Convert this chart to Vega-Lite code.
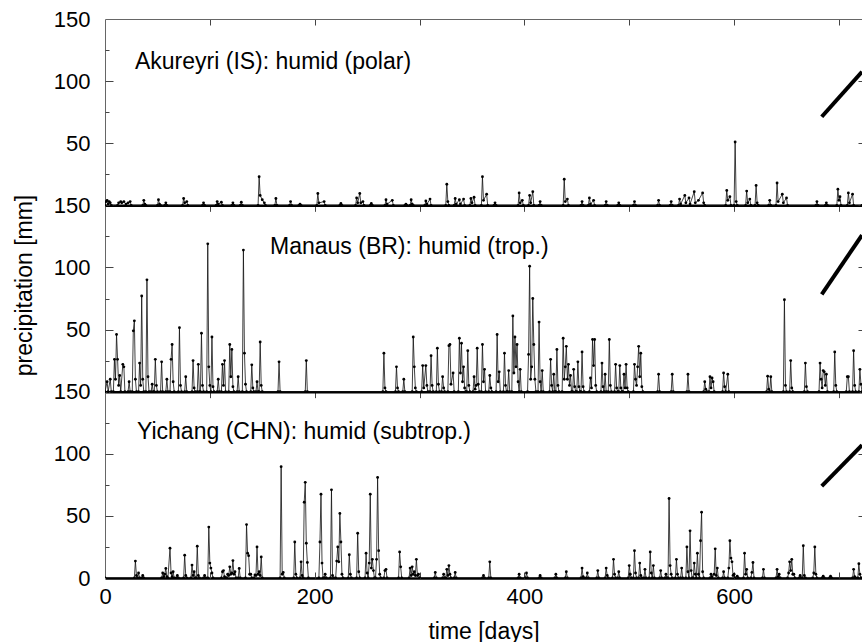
{
"$schema": "https://vega.github.io/schema/vega-lite/v6.json",
"width": 757, "height": 559,
"autosize": {"type": "none"},
"padding": {"left": 105, "top": 19, "right": 0, "bottom": 64},
"background": "white",
"config": {
  "view": {"stroke": null},
  "font": "Liberation Sans",
  "axis": {"grid": false, "labelFont": "Liberation Sans", "labelFontSize": 22, "labelColor": "#000", "titleFont": "Liberation Sans", "titleFontSize": 23, "titleFontWeight": "normal", "titleColor": "#000", "domainColor": "#666", "tickColor": "#444", "tickWidth": 1, "labelFlush": false, "labelOverlap": false, "labelBound": false}
},
"datasets": {
"ak": [{"t":0,"p":0},{"t":1,"p":3},{"t":2,"p":4},{"t":3,"p":1},{"t":4,"p":3},{"t":5,"p":2},{"t":6,"p":0},{"t":12,"p":0},{"t":13,"p":2},{"t":15,"p":3},{"t":16,"p":2},{"t":18,"p":3},{"t":20,"p":1},{"t":22,"p":2},{"t":24,"p":3},{"t":25,"p":0},{"t":36,"p":0},{"t":37,"p":4},{"t":38,"p":1},{"t":39,"p":0},{"t":50,"p":0},{"t":51,"p":4.5},{"t":52,"p":1},{"t":53,"p":0},{"t":57,"p":0},{"t":58,"p":2},{"t":59,"p":0},{"t":74,"p":0},{"t":75,"p":5.5},{"t":76,"p":2},{"t":78,"p":3},{"t":79,"p":0},{"t":93,"p":0},{"t":94,"p":2},{"t":95,"p":0},{"t":106,"p":0},{"t":107,"p":3},{"t":108,"p":1},{"t":111,"p":2.5},{"t":112,"p":0},{"t":121,"p":0},{"t":122,"p":2},{"t":123,"p":0},{"t":129,"p":0},{"t":130,"p":2.5},{"t":131,"p":0},{"t":146,"p":0},{"t":147,"p":23},{"t":148,"p":8},{"t":150,"p":4.5},{"t":152,"p":2},{"t":153,"p":0},{"t":162,"p":0},{"t":163,"p":5.5},{"t":164,"p":0},{"t":176,"p":0},{"t":177,"p":3},{"t":178,"p":0},{"t":185,"p":0},{"t":186,"p":1},{"t":187,"p":0},{"t":202,"p":0},{"t":203,"p":9.5},{"t":204,"p":2},{"t":209,"p":3},{"t":210,"p":0},{"t":224,"p":0},{"t":225,"p":1.5},{"t":226,"p":0},{"t":239,"p":0},{"t":240,"p":6},{"t":241,"p":2},{"t":243,"p":9.5},{"t":244,"p":2},{"t":246,"p":3},{"t":247,"p":0},{"t":253,"p":0},{"t":254,"p":1.5},{"t":255,"p":0},{"t":267,"p":0},{"t":268,"p":4.5},{"t":269,"p":1},{"t":274,"p":4},{"t":275,"p":0},{"t":286,"p":0},{"t":287,"p":1},{"t":288,"p":0},{"t":291,"p":0},{"t":292,"p":4.5},{"t":293,"p":1},{"t":294,"p":0},{"t":305,"p":0},{"t":306,"p":3.5},{"t":307,"p":1},{"t":310,"p":5},{"t":311,"p":0},{"t":325,"p":0},{"t":326,"p":17},{"t":327,"p":3},{"t":328,"p":0},{"t":333,"p":0},{"t":334,"p":5.5},{"t":335,"p":1},{"t":338,"p":4.5},{"t":339,"p":1},{"t":342,"p":5},{"t":343,"p":0},{"t":348,"p":0},{"t":349,"p":5.5},{"t":350,"p":2},{"t":352,"p":6.5},{"t":353,"p":0},{"t":359,"p":0},{"t":360,"p":23},{"t":361,"p":4},{"t":364,"p":9},{"t":365,"p":0},{"t":371,"p":0},{"t":372,"p":2},{"t":373,"p":0},{"t":394,"p":0},{"t":395,"p":10},{"t":396,"p":2},{"t":398,"p":4},{"t":399,"p":0},{"t":404,"p":0},{"t":405,"p":8},{"t":406,"p":2},{"t":408,"p":11},{"t":409,"p":0},{"t":414,"p":0},{"t":415,"p":3},{"t":416,"p":0},{"t":437,"p":0},{"t":438,"p":21},{"t":439,"p":3},{"t":441,"p":5},{"t":442,"p":0},{"t":454,"p":0},{"t":455,"p":3},{"t":456,"p":0},{"t":461,"p":0},{"t":462,"p":6},{"t":463,"p":1},{"t":466,"p":4},{"t":467,"p":0},{"t":477,"p":0},{"t":478,"p":3},{"t":479,"p":0},{"t":489,"p":0},{"t":490,"p":2},{"t":491,"p":0},{"t":504,"p":0},{"t":505,"p":3},{"t":506,"p":0},{"t":527,"p":0},{"t":528,"p":4},{"t":529,"p":0},{"t":539,"p":0},{"t":540,"p":3},{"t":541,"p":0},{"t":547,"p":0},{"t":548,"p":5},{"t":549,"p":1},{"t":553,"p":8},{"t":554,"p":2},{"t":557,"p":6},{"t":558,"p":1},{"t":562,"p":11},{"t":563,"p":2},{"t":566,"p":4},{"t":570,"p":10},{"t":571,"p":2},{"t":572,"p":0},{"t":592,"p":0},{"t":593,"p":12},{"t":594,"p":4},{"t":596,"p":7},{"t":597,"p":0},{"t":600,"p":0},{"t":601,"p":51},{"t":602,"p":3},{"t":603,"p":0},{"t":611,"p":0},{"t":612,"p":11.5},{"t":613,"p":2},{"t":615,"p":5},{"t":616,"p":0},{"t":620,"p":0},{"t":621,"p":16},{"t":622,"p":2},{"t":623,"p":0},{"t":633,"p":0},{"t":634,"p":4},{"t":635,"p":0},{"t":640,"p":0},{"t":641,"p":18},{"t":642,"p":3},{"t":646,"p":9},{"t":647,"p":2},{"t":650,"p":6},{"t":651,"p":0},{"t":678,"p":0},{"t":679,"p":3},{"t":680,"p":0},{"t":687,"p":0},{"t":688,"p":2},{"t":689,"p":0},{"t":698,"p":0},{"t":699,"p":13},{"t":700,"p":4},{"t":701,"p":7},{"t":702,"p":0},{"t":708,"p":0},{"t":709,"p":10},{"t":710,"p":2},{"t":713,"p":9},{"t":714,"p":0},{"t":722,"p":0}],
"ma": [{"t":0,"p":0},{"t":2,"p":8},{"t":3,"p":0},{"t":5,"p":10},{"t":6,"p":0},{"t":8,"p":0},{"t":9,"p":26},{"t":10,"p":10},{"t":11,"p":46},{"t":12,"p":26},{"t":13,"p":5},{"t":14,"p":13},{"t":15,"p":0},{"t":17,"p":22},{"t":18,"p":20},{"t":19,"p":0},{"t":22,"p":0},{"t":23,"p":8},{"t":24,"p":0},{"t":26,"p":0},{"t":27,"p":49},{"t":28,"p":57},{"t":29,"p":10},{"t":30,"p":0},{"t":32,"p":0},{"t":33,"p":23},{"t":34,"p":5},{"t":35,"p":77},{"t":36,"p":10},{"t":37,"p":0},{"t":39,"p":0},{"t":40,"p":90},{"t":41,"p":12},{"t":42,"p":0},{"t":44,"p":0},{"t":45,"p":6},{"t":46,"p":0},{"t":47,"p":0},{"t":48,"p":26},{"t":49,"p":5},{"t":50,"p":0},{"t":53,"p":0},{"t":54,"p":24},{"t":55,"p":0},{"t":58,"p":0},{"t":59,"p":10},{"t":60,"p":0},{"t":62,"p":0},{"t":63,"p":26},{"t":64,"p":38},{"t":65,"p":8},{"t":66,"p":0},{"t":70,"p":0},{"t":71,"p":51.5},{"t":72,"p":5},{"t":73,"p":0},{"t":76,"p":0},{"t":77,"p":12},{"t":78,"p":0},{"t":83,"p":0},{"t":84,"p":25},{"t":85,"p":3},{"t":86,"p":0},{"t":88,"p":0},{"t":89,"p":22},{"t":90,"p":0},{"t":91,"p":0},{"t":92,"p":47},{"t":93,"p":5},{"t":94,"p":0},{"t":97,"p":0},{"t":98,"p":119},{"t":99,"p":20},{"t":100,"p":5},{"t":101,"p":0},{"t":102,"p":44},{"t":103,"p":4},{"t":104,"p":0},{"t":107,"p":0},{"t":108,"p":10},{"t":109,"p":0},{"t":111,"p":0},{"t":112,"p":22},{"t":113,"p":5},{"t":114,"p":25},{"t":115,"p":0},{"t":118,"p":0},{"t":119,"p":38},{"t":120,"p":12},{"t":121,"p":34},{"t":122,"p":4},{"t":123,"p":0},{"t":126,"p":0},{"t":127,"p":12},{"t":128,"p":0},{"t":131,"p":0},{"t":132,"p":114},{"t":133,"p":31},{"t":134,"p":6},{"t":135,"p":0},{"t":139,"p":0},{"t":140,"p":21.6},{"t":141,"p":3},{"t":142,"p":0},{"t":144,"p":0},{"t":145,"p":8},{"t":146,"p":0},{"t":147,"p":0},{"t":148,"p":40},{"t":149,"p":5},{"t":150,"p":0},{"t":165,"p":0},{"t":166,"p":24},{"t":167,"p":0},{"t":191,"p":0},{"t":192,"p":25},{"t":193,"p":0},{"t":265,"p":0},{"t":266,"p":31},{"t":267,"p":3},{"t":268,"p":0},{"t":277,"p":0},{"t":278,"p":20},{"t":279,"p":3},{"t":280,"p":0},{"t":284,"p":0},{"t":285,"p":10},{"t":286,"p":0},{"t":293,"p":0},{"t":294,"p":44},{"t":295,"p":20},{"t":296,"p":3},{"t":297,"p":0},{"t":302,"p":0},{"t":303,"p":21},{"t":304,"p":3},{"t":306,"p":21},{"t":307,"p":5},{"t":308,"p":0},{"t":310,"p":0},{"t":311,"p":29},{"t":312,"p":5},{"t":313,"p":0},{"t":316,"p":0},{"t":317,"p":35},{"t":318,"p":6},{"t":319,"p":0},{"t":321,"p":0},{"t":322,"p":12},{"t":323,"p":3},{"t":324,"p":0},{"t":327,"p":0},{"t":328,"p":37},{"t":329,"p":38},{"t":330,"p":6},{"t":332,"p":15},{"t":333,"p":0},{"t":337,"p":0},{"t":338,"p":43},{"t":339,"p":15},{"t":340,"p":39},{"t":341,"p":8},{"t":342,"p":20},{"t":343,"p":3},{"t":344,"p":0},{"t":345,"p":0},{"t":346,"p":33},{"t":347,"p":5},{"t":348,"p":0},{"t":351,"p":0},{"t":352,"p":12},{"t":353,"p":2},{"t":354,"p":5},{"t":355,"p":35},{"t":356,"p":6},{"t":357,"p":0},{"t":359,"p":0},{"t":360,"p":38},{"t":361,"p":8},{"t":362,"p":18},{"t":363,"p":0},{"t":366,"p":0},{"t":367,"p":13},{"t":368,"p":3},{"t":369,"p":0},{"t":373,"p":0},{"t":374,"p":46},{"t":375,"p":8},{"t":376,"p":16},{"t":377,"p":0},{"t":380,"p":0},{"t":381,"p":31},{"t":382,"p":5},{"t":383,"p":0},{"t":384,"p":0},{"t":385,"p":17},{"t":386,"p":0},{"t":388,"p":0},{"t":389,"p":61},{"t":390,"p":15},{"t":391,"p":44},{"t":392,"p":20},{"t":393,"p":38},{"t":394,"p":8},{"t":395,"p":0},{"t":396,"p":18},{"t":397,"p":0},{"t":403,"p":0},{"t":404,"p":30},{"t":405,"p":101},{"t":406,"p":10},{"t":407,"p":20},{"t":408,"p":75},{"t":409,"p":38},{"t":410,"p":10},{"t":411,"p":0},{"t":413,"p":0},{"t":414,"p":56},{"t":415,"p":8},{"t":416,"p":0},{"t":417,"p":17},{"t":418,"p":0},{"t":424,"p":0},{"t":425,"p":26},{"t":426,"p":5},{"t":427,"p":0},{"t":428,"p":14},{"t":429,"p":0},{"t":430,"p":0},{"t":431,"p":34},{"t":432,"p":5},{"t":433,"p":0},{"t":436,"p":0},{"t":437,"p":43},{"t":438,"p":10},{"t":439,"p":20},{"t":440,"p":36.5},{"t":441,"p":10},{"t":442,"p":22},{"t":443,"p":5},{"t":444,"p":13},{"t":445,"p":0},{"t":446,"p":0},{"t":447,"p":18},{"t":448,"p":4},{"t":449,"p":0},{"t":450,"p":0},{"t":451,"p":24},{"t":452,"p":4},{"t":453,"p":0},{"t":454,"p":0},{"t":455,"p":32},{"t":456,"p":4},{"t":457,"p":0},{"t":462,"p":0},{"t":463,"p":11},{"t":464,"p":3},{"t":465,"p":42},{"t":466,"p":21},{"t":467,"p":42},{"t":468,"p":5},{"t":469,"p":0},{"t":473,"p":0},{"t":474,"p":23},{"t":475,"p":4},{"t":476,"p":0},{"t":477,"p":14},{"t":478,"p":0},{"t":480,"p":0},{"t":481,"p":42},{"t":482,"p":5},{"t":483,"p":0},{"t":486,"p":0},{"t":487,"p":22},{"t":488,"p":3},{"t":489,"p":0},{"t":490,"p":0},{"t":491,"p":21},{"t":492,"p":3},{"t":493,"p":0},{"t":494,"p":0},{"t":495,"p":14},{"t":496,"p":3},{"t":497,"p":22},{"t":498,"p":3},{"t":499,"p":0},{"t":504,"p":0},{"t":505,"p":22},{"t":506,"p":10},{"t":507,"p":5},{"t":508,"p":20},{"t":509,"p":36.5},{"t":510,"p":12},{"t":511,"p":31},{"t":512,"p":4},{"t":513,"p":0},{"t":527,"p":0},{"t":528,"p":14},{"t":529,"p":0},{"t":540,"p":0},{"t":541,"p":14},{"t":542,"p":0},{"t":555,"p":0},{"t":556,"p":14},{"t":557,"p":0},{"t":571,"p":0},{"t":572,"p":8},{"t":573,"p":2},{"t":574,"p":0},{"t":576,"p":0},{"t":577,"p":12},{"t":578,"p":3},{"t":579,"p":11},{"t":580,"p":8},{"t":581,"p":0},{"t":589,"p":0},{"t":590,"p":15},{"t":591,"p":4},{"t":592,"p":0},{"t":594,"p":14},{"t":595,"p":0},{"t":631,"p":0},{"t":632,"p":12.5},{"t":633,"p":2},{"t":634,"p":0},{"t":635,"p":12},{"t":636,"p":0},{"t":647,"p":0},{"t":648,"p":74},{"t":649,"p":5},{"t":650,"p":0},{"t":653,"p":0},{"t":654,"p":25},{"t":655,"p":3},{"t":656,"p":0},{"t":667,"p":0},{"t":668,"p":23},{"t":669,"p":4},{"t":670,"p":0},{"t":681,"p":0},{"t":682,"p":23},{"t":683,"p":10},{"t":684,"p":3},{"t":685,"p":17},{"t":686,"p":16},{"t":687,"p":5},{"t":688,"p":14},{"t":689,"p":0},{"t":695,"p":0},{"t":696,"p":32},{"t":697,"p":5},{"t":698,"p":0},{"t":707,"p":0},{"t":708,"p":12},{"t":709,"p":12},{"t":710,"p":0},{"t":713,"p":0},{"t":714,"p":33},{"t":715,"p":5},{"t":716,"p":0},{"t":719,"p":0},{"t":720,"p":18},{"t":721,"p":6},{"t":722,"p":0}],
"yi": [{"t":0,"p":0},{"t":28,"p":0},{"t":29,"p":13.6},{"t":30,"p":2},{"t":31,"p":0},{"t":32,"p":4},{"t":33,"p":0},{"t":35,"p":0},{"t":36,"p":2},{"t":37,"p":0},{"t":54,"p":0},{"t":55,"p":4},{"t":56,"p":1},{"t":57,"p":3},{"t":58,"p":7.7},{"t":59,"p":1},{"t":60,"p":0},{"t":62,"p":24},{"t":63,"p":4},{"t":64,"p":1},{"t":65,"p":5},{"t":66,"p":0},{"t":68,"p":0},{"t":69,"p":2},{"t":70,"p":0},{"t":75,"p":0},{"t":76,"p":18.4},{"t":77,"p":2},{"t":78,"p":0},{"t":82,"p":0},{"t":83,"p":10.4},{"t":84,"p":2},{"t":85,"p":5},{"t":86,"p":0},{"t":87,"p":0},{"t":88,"p":25.6},{"t":89,"p":2},{"t":90,"p":0},{"t":94,"p":0},{"t":95,"p":2},{"t":96,"p":0},{"t":98,"p":0},{"t":99,"p":41},{"t":100,"p":12},{"t":101,"p":8},{"t":102,"p":4},{"t":103,"p":0},{"t":111,"p":0},{"t":112,"p":5},{"t":113,"p":6},{"t":114,"p":1},{"t":115,"p":0},{"t":116,"p":0},{"t":117,"p":3},{"t":118,"p":2},{"t":119,"p":9},{"t":120,"p":3},{"t":121,"p":4},{"t":122,"p":14},{"t":123,"p":3},{"t":124,"p":5},{"t":125,"p":0},{"t":127,"p":0},{"t":128,"p":7.7},{"t":129,"p":0},{"t":134,"p":0},{"t":135,"p":43},{"t":136,"p":20},{"t":137,"p":18},{"t":138,"p":3},{"t":139,"p":3},{"t":140,"p":0},{"t":142,"p":0},{"t":143,"p":2.5},{"t":144,"p":2},{"t":145,"p":25},{"t":146,"p":3},{"t":147,"p":5},{"t":148,"p":2},{"t":149,"p":17},{"t":150,"p":0},{"t":167,"p":0},{"t":168,"p":89.6},{"t":169,"p":3},{"t":170,"p":4.5},{"t":171,"p":0},{"t":180,"p":0},{"t":181,"p":29},{"t":182,"p":3},{"t":183,"p":0},{"t":186,"p":0},{"t":187,"p":13},{"t":188,"p":2},{"t":189,"p":0},{"t":190,"p":61},{"t":191,"p":77},{"t":192,"p":28},{"t":193,"p":12.5},{"t":194,"p":0},{"t":204,"p":0},{"t":205,"p":29},{"t":206,"p":67.5},{"t":207,"p":12},{"t":208,"p":0},{"t":209,"p":0},{"t":210,"p":3},{"t":211,"p":0},{"t":215,"p":0},{"t":216,"p":71},{"t":217,"p":2},{"t":218,"p":0},{"t":220,"p":0},{"t":221,"p":13.6},{"t":222,"p":25},{"t":223,"p":13},{"t":224,"p":52},{"t":225,"p":29},{"t":226,"p":3},{"t":227,"p":0},{"t":232,"p":0},{"t":233,"p":18.7},{"t":234,"p":3},{"t":235,"p":0},{"t":240,"p":0},{"t":241,"p":36},{"t":242,"p":5},{"t":243,"p":0},{"t":248,"p":0},{"t":249,"p":20},{"t":250,"p":4},{"t":251,"p":0},{"t":252,"p":12},{"t":253,"p":67.5},{"t":254,"p":8},{"t":255,"p":15},{"t":256,"p":6},{"t":257,"p":0},{"t":258,"p":0},{"t":259,"p":15},{"t":260,"p":81},{"t":261,"p":22},{"t":262,"p":3},{"t":263,"p":0},{"t":266,"p":0},{"t":267,"p":6},{"t":268,"p":7},{"t":269,"p":0},{"t":280,"p":0},{"t":281,"p":21},{"t":282,"p":9},{"t":283,"p":0},{"t":290,"p":0},{"t":291,"p":8},{"t":292,"p":2},{"t":293,"p":9},{"t":294,"p":3},{"t":295,"p":5},{"t":296,"p":2},{"t":297,"p":15},{"t":298,"p":2},{"t":299,"p":3},{"t":300,"p":0},{"t":314,"p":0},{"t":315,"p":4.5},{"t":316,"p":0},{"t":322,"p":0},{"t":323,"p":3},{"t":324,"p":0},{"t":325,"p":0},{"t":326,"p":7},{"t":327,"p":2},{"t":328,"p":10},{"t":329,"p":3},{"t":330,"p":0},{"t":333,"p":0},{"t":334,"p":4.5},{"t":335,"p":0},{"t":360,"p":0},{"t":361,"p":2},{"t":362,"p":0},{"t":366,"p":0},{"t":367,"p":13},{"t":368,"p":0},{"t":394,"p":0},{"t":395,"p":3},{"t":396,"p":0},{"t":401,"p":0},{"t":402,"p":4},{"t":403,"p":0},{"t":414,"p":0},{"t":415,"p":2},{"t":416,"p":0},{"t":429,"p":0},{"t":430,"p":3},{"t":431,"p":0},{"t":439,"p":0},{"t":440,"p":5},{"t":441,"p":0},{"t":454,"p":0},{"t":455,"p":8},{"t":456,"p":1},{"t":457,"p":0},{"t":459,"p":0},{"t":460,"p":4},{"t":461,"p":0},{"t":469,"p":0},{"t":470,"p":6},{"t":471,"p":0},{"t":477,"p":0},{"t":478,"p":8},{"t":479,"p":2},{"t":480,"p":0},{"t":484,"p":0},{"t":485,"p":15},{"t":486,"p":3},{"t":487,"p":0},{"t":489,"p":0},{"t":490,"p":5},{"t":491,"p":0},{"t":499,"p":0},{"t":500,"p":10},{"t":501,"p":3},{"t":502,"p":0},{"t":504,"p":0},{"t":505,"p":22},{"t":506,"p":4},{"t":507,"p":0},{"t":509,"p":0},{"t":510,"p":12},{"t":511,"p":2},{"t":512,"p":0},{"t":514,"p":0},{"t":515,"p":7},{"t":516,"p":0},{"t":519,"p":0},{"t":520,"p":21},{"t":521,"p":4},{"t":522,"p":0},{"t":523,"p":10},{"t":524,"p":0},{"t":529,"p":0},{"t":530,"p":6},{"t":531,"p":0},{"t":534,"p":0},{"t":535,"p":3},{"t":536,"p":0},{"t":537,"p":0},{"t":538,"p":64},{"t":539,"p":10},{"t":540,"p":3},{"t":541,"p":0},{"t":544,"p":0},{"t":545,"p":15},{"t":546,"p":3},{"t":547,"p":0},{"t":549,"p":0},{"t":550,"p":8},{"t":551,"p":0},{"t":554,"p":0},{"t":555,"p":25},{"t":556,"p":5},{"t":557,"p":0},{"t":558,"p":38},{"t":559,"p":6},{"t":560,"p":0},{"t":561,"p":0},{"t":562,"p":12},{"t":563,"p":3},{"t":564,"p":0},{"t":565,"p":20},{"t":566,"p":3},{"t":567,"p":0},{"t":568,"p":30},{"t":569,"p":53},{"t":570,"p":5},{"t":571,"p":0},{"t":577,"p":0},{"t":578,"p":3},{"t":579,"p":1},{"t":581,"p":3},{"t":582,"p":23.5},{"t":583,"p":2},{"t":584,"p":8},{"t":585,"p":0},{"t":589,"p":0},{"t":590,"p":5},{"t":591,"p":0},{"t":594,"p":0},{"t":595,"p":8},{"t":596,"p":30},{"t":597,"p":16},{"t":598,"p":13},{"t":599,"p":2},{"t":600,"p":3},{"t":601,"p":0},{"t":603,"p":1.5},{"t":604,"p":0},{"t":609,"p":0},{"t":610,"p":20},{"t":611,"p":3},{"t":612,"p":7},{"t":613,"p":0},{"t":616,"p":0},{"t":617,"p":4.5},{"t":618,"p":12.5},{"t":619,"p":0},{"t":627,"p":0},{"t":628,"p":7},{"t":629,"p":0},{"t":640,"p":0},{"t":641,"p":7},{"t":642,"p":1},{"t":643,"p":3},{"t":644,"p":0},{"t":651,"p":0},{"t":652,"p":4},{"t":653,"p":13},{"t":654,"p":6},{"t":655,"p":15},{"t":656,"p":3},{"t":657,"p":3},{"t":658,"p":0},{"t":662,"p":0},{"t":663,"p":2},{"t":664,"p":0},{"t":665,"p":0},{"t":666,"p":26},{"t":667,"p":2},{"t":668,"p":0},{"t":675,"p":0},{"t":676,"p":4},{"t":677,"p":25},{"t":678,"p":3},{"t":679,"p":0},{"t":684,"p":0},{"t":685,"p":1.5},{"t":686,"p":0},{"t":691,"p":0},{"t":692,"p":1.5},{"t":693,"p":0},{"t":713,"p":0},{"t":714,"p":7},{"t":715,"p":1},{"t":716,"p":0},{"t":718,"p":0},{"t":719,"p":11.5},{"t":720,"p":3},{"t":721,"p":0},{"t":722,"p":0}]
},
"resolve": {"scale": {"x": "independent", "y": "independent"}, "axis": {"x": "independent", "y": "independent"}},
"layer": [
  {"data": {"name": "yi"},
   "mark": {"type": "line", "stroke": "#111", "strokeWidth": 0.8, "clip": true},
   "encoding": {
     "x": {"field": "t", "type": "quantitative", "scale": {"domain": [0, 722], "nice": false, "zero": false},
           "axis": {"orient": "bottom", "values": [0, 200, 400, 600], "ticks": false, "labelPadding": 8, "domainColor": "#000", "domainWidth": 2.5, "title": "time [days]", "titleY": 42}},
     "y": {"field": "p", "type": "quantitative", "scale": {"domain": [0, 450], "nice": false, "zero": false},
           "axis": {"orient": "left", "values": [0, 50, 100, 150, 200, 250, 300, 350, 400, 450], "labelExpr": "datum.value == 0 ? '0' : (datum.value % 150 == 0 ? '150' : '' + (datum.value % 150))", "ticks": false, "labelPadding": 15, "title": "precipitation [mm]", "titleX": -69, "titleY": 266, "titleAngle": -90, "titleBaseline": "bottom", "titleAlign": "center"}}
   }},
  {"data": {"name": "yi"},
   "mark": {"type": "point", "filled": true, "size": 8, "color": "#000", "opacity": 1, "clip": true},
   "encoding": {
     "x": {"field": "t", "type": "quantitative", "scale": {"domain": [0, 722], "nice": false, "zero": false},
           "axis": {"orient": "bottom", "values": [100, 200, 300, 400, 500, 600, 700], "labels": false, "tickSize": -6, "domain": false, "title": null}},
     "y": {"field": "p", "type": "quantitative", "scale": {"domain": [0, 450], "nice": false, "zero": false},
           "axis": {"orient": "left", "values": [50, 100, 150, 200, 250, 300, 350, 400], "labels": false, "tickSize": -8, "domain": false, "title": null}}
   }},
  {"data": {"name": "ma"},
   "mark": {"type": "line", "stroke": "#111", "strokeWidth": 0.8, "clip": true},
   "encoding": {
     "x": {"field": "t", "type": "quantitative", "scale": {"domain": [0, 722], "nice": false, "zero": false},
           "axis": {"orient": "top", "offset": -186.33, "values": [100, 200, 300, 400, 500, 600, 700], "labels": false, "tickSize": -6, "domainColor": "#000", "domainWidth": 2.5, "title": null}},
     "y": {"field": "p", "type": "quantitative", "scale": {"domain": [-150, 300], "nice": false, "zero": false},
           "axis": {"orient": "left", "values": [-125, -75, -25, 25, 75, 125, 175, 225, 275], "labels": false, "tickSize": -4, "domain": false, "title": null}}
   }},
  {"data": {"name": "ma"},
   "mark": {"type": "point", "filled": true, "size": 8, "color": "#000", "opacity": 1, "clip": true},
   "encoding": {
     "x": {"field": "t", "type": "quantitative", "scale": {"domain": [0, 722], "nice": false, "zero": false},
           "axis": {"orient": "top", "offset": -372.67, "values": [100, 200, 300, 400, 500, 600, 700], "labels": false, "tickSize": -6, "domainColor": "#000", "domainWidth": 2.5, "title": null}},
     "y": {"field": "p", "type": "quantitative", "scale": {"domain": [-150, 300], "nice": false, "zero": false}, "axis": null}
   }},
  {"data": {"name": "ak"},
   "mark": {"type": "line", "stroke": "#111", "strokeWidth": 0.8, "clip": true},
   "encoding": {
     "x": {"field": "t", "type": "quantitative", "scale": {"domain": [0, 722], "nice": false, "zero": false},
           "axis": {"orient": "top", "values": [100, 200, 300, 400, 500, 600, 700], "labels": false, "tickSize": -6, "domainColor": "#666", "title": null}},
     "y": {"field": "p", "type": "quantitative", "scale": {"domain": [-300, 150], "nice": false, "zero": false},
           "axis": {"orient": "right", "values": [-250, -200, -150, -100, -50, 0, 50, 100], "labels": false, "tickSize": -4, "domain": false, "title": null}}
   }},
  {"data": {"name": "ak"},
   "mark": {"type": "point", "filled": true, "size": 8, "color": "#000", "opacity": 1, "clip": true},
   "encoding": {
     "x": {"field": "t", "type": "quantitative", "scale": {"domain": [0, 722], "nice": false, "zero": false}, "axis": null},
     "y": {"field": "p", "type": "quantitative", "scale": {"domain": [-300, 150], "nice": false, "zero": false}, "axis": null}
   }},
  {"data": {"values": [{"label": "Akureyri (IS): humid (polar)", "x": 28.6, "y": 110}]},
   "mark": {"type": "text", "align": "left", "baseline": "alphabetic", "font": "Liberation Sans", "fontSize": 23, "color": "#000"},
   "encoding": {
     "x": {"field": "x", "type": "quantitative", "scale": {"domain": [0, 722], "nice": false, "zero": false}, "axis": null},
     "y": {"field": "y", "type": "quantitative", "scale": {"domain": [-300, 150], "nice": false, "zero": false}, "axis": null},
     "text": {"field": "label"}
   }},
  {"data": {"values": [{"label": "Manaus (BR): humid (trop.)", "x": 157.4, "y": 111}]},
   "mark": {"type": "text", "align": "left", "baseline": "alphabetic", "font": "Liberation Sans", "fontSize": 23, "color": "#000"},
   "encoding": {
     "x": {"field": "x", "type": "quantitative", "scale": {"domain": [0, 722], "nice": false, "zero": false}, "axis": null},
     "y": {"field": "y", "type": "quantitative", "scale": {"domain": [-150, 300], "nice": false, "zero": false}, "axis": null},
     "text": {"field": "label"}
   }},
  {"data": {"values": [{"label": "Yichang (CHN): humid (subtrop.)", "x": 30.5, "y": 111.5}]},
   "mark": {"type": "text", "align": "left", "baseline": "alphabetic", "font": "Liberation Sans", "fontSize": 23, "color": "#000"},
   "encoding": {
     "x": {"field": "x", "type": "quantitative", "scale": {"domain": [0, 722], "nice": false, "zero": false}, "axis": null},
     "y": {"field": "y", "type": "quantitative", "scale": {"domain": [0, 450], "nice": false, "zero": false}, "axis": null},
     "text": {"field": "label"}
   }},
  {"data": {"values": [{"x": 683.6, "x2": 722, "y": 71.3, "y2": 107.5}]},
   "mark": {"type": "rule", "color": "#000", "strokeWidth": 4, "clip": true},
   "encoding": {
     "x": {"field": "x", "type": "quantitative", "scale": {"domain": [0, 722], "nice": false, "zero": false}, "axis": null},
     "x2": {"field": "x2"},
     "y": {"field": "y", "type": "quantitative", "scale": {"domain": [-300, 150], "nice": false, "zero": false}, "axis": null},
     "y2": {"field": "y2"}
   }},
  {"data": {"values": [{"x": 683.6, "x2": 722, "y": 78.4, "y2": 126}]},
   "mark": {"type": "rule", "color": "#000", "strokeWidth": 4, "clip": true},
   "encoding": {
     "x": {"field": "x", "type": "quantitative", "scale": {"domain": [0, 722], "nice": false, "zero": false}, "axis": null},
     "x2": {"field": "x2"},
     "y": {"field": "y", "type": "quantitative", "scale": {"domain": [-150, 300], "nice": false, "zero": false}, "axis": null},
     "y2": {"field": "y2"}
   }},
  {"data": {"values": [{"x": 683.6, "x2": 722, "y": 74, "y2": 107}]},
   "mark": {"type": "rule", "color": "#000", "strokeWidth": 4, "clip": true},
   "encoding": {
     "x": {"field": "x", "type": "quantitative", "scale": {"domain": [0, 722], "nice": false, "zero": false}, "axis": null},
     "x2": {"field": "x2"},
     "y": {"field": "y", "type": "quantitative", "scale": {"domain": [0, 450], "nice": false, "zero": false}, "axis": null},
     "y2": {"field": "y2"}
   }}
]
}
